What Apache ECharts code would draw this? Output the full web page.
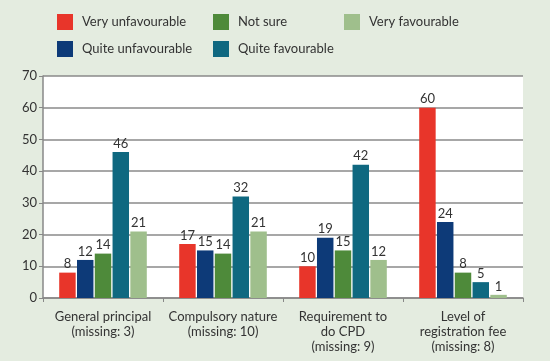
<!DOCTYPE html>
<html>
<head>
<meta charset="utf-8">
<script src="https://cdn.jsdelivr.net/npm/echarts@6/dist/echarts.min.js"></script>
<style>
  html, body { margin: 0; padding: 0; background: #e4ece0; }
  #chart { width: 550px; height: 361px; }
</style>
</head>
<body>
<div id="chart"></div>
<script>
// categories on the x axis
const categories = [
    'General principal\n(missing: 3)',
    'Compulsory nature\n(missing: 10)',
    'Requirement to\ndo CPD\n(missing: 9)',
    'Level of\nregistration fee\n(missing: 8)'
];
const seriesNames = ['Very unfavourable', 'Quite unfavourable', 'Not sure', 'Quite favourable', 'Very favourable'];
const colors = ['#e8352a', '#0d3a78', '#4e8a3a', '#0f6880', '#9fbf8c'];

// values per response, one per category
const veryUnfav = [8, 17, 10, 60];
const quiteUnfav = [12, 15, 19, 24];
const notSure = [14, 14, 15, 8];
const quiteFav = [46, 32, 42, 5];
const veryFav = [21, 21, 12, 1];
const values = [veryUnfav, quiteUnfav, notSure, quiteFav, veryFav];

const font = 'Lato, "DejaVu Sans", sans-serif';
const txt = '#333';

const chart = echarts.init(document.getElementById('chart'));

const legendBase = {
    orient: 'vertical',
    top: 9,
    itemWidth: 16,
    itemHeight: 16,
    itemGap: 11,
    icon: 'rect',
    textStyle: { fontFamily: font, fontSize: 13, color: txt, padding: [0, 0, 0, 4] }
};

chart.setOption({
    backgroundColor: '#e4ece0',
    animation: false,
    color: colors,
    legend: [
        Object.assign({}, legendBase, { left: 52, data: [seriesNames[0], seriesNames[1]] }),
        Object.assign({}, legendBase, { left: 208, data: [seriesNames[2], seriesNames[3]] }),
        Object.assign({}, legendBase, { left: 339, data: [seriesNames[4]] })
    ],
    grid: {
        left: 43,
        right: 27,
        top: 76,
        bottom: 63,
        show: true,
        backgroundColor: '#ffffff',
        borderWidth: 0
    },
    xAxis: {
        type: 'category',
        data: categories,
        axisLine: { lineStyle: { color: '#888', width: 1.5 } },
        axisTick: { show: true, length: 4, lineStyle: { color: '#888' } },
        axisLabel: {
            fontFamily: font,
            fontSize: 13,
            color: txt,
            lineHeight: 15,
            margin: 11,
            interval: 0
        }
    },
    yAxis: {
        type: 'value',
        min: 0,
        max: 70,
        interval: 10,
        axisLine: { show: true, lineStyle: { color: '#888', width: 1.5 } },
        axisTick: { show: true, length: 4, lineStyle: { color: '#888' } },
        splitLine: { lineStyle: { color: '#8a8a8a', width: 1.5 } },
        axisLabel: { fontFamily: font, fontSize: 13, color: txt, margin: 6 }
    },
    series: seriesNames.map((name, i) => ({
        name: name,
        type: 'bar',
        data: values[i],
        barGap: '8%',
        barCategoryGap: '27%',
        label: {
            show: true,
            position: 'top',
            distance: 2,
            fontFamily: font,
            fontSize: 13,
            color: txt
        }
    }))
});
</script>
</body>
</html>
